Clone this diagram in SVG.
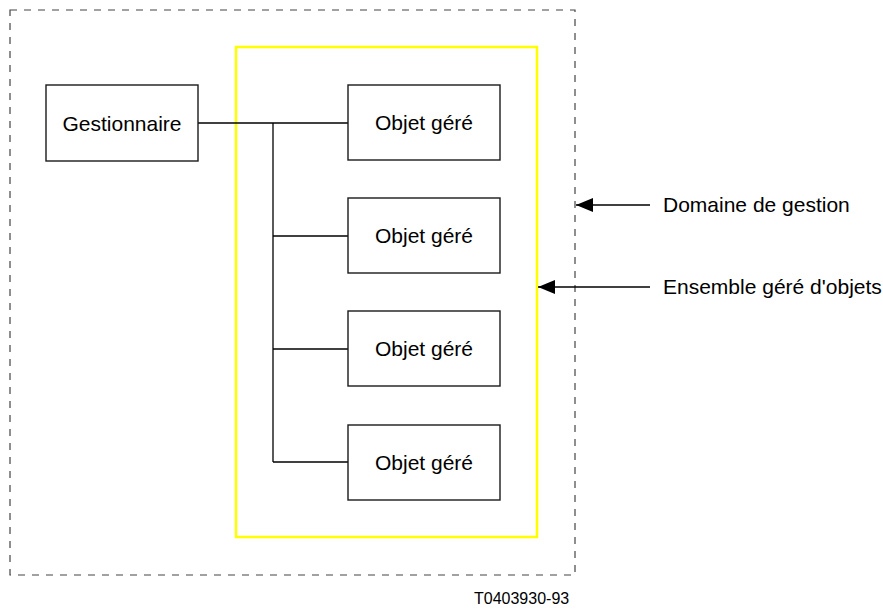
<svg xmlns="http://www.w3.org/2000/svg" width="883" height="609" viewBox="0 0 883 609">
  <style>
    .box { fill: #ffffff; stroke: #1a1a1a; stroke-width: 1.4; }
    .lbl { font-family: "Liberation Sans", Arial, sans-serif; font-size: 21px; fill: #000000; }
    .cap { font-family: "Liberation Sans", Arial, sans-serif; font-size: 16px; fill: #000000; }
    .wire { stroke: #000000; stroke-width: 1.3; fill: none; }
    .dom { fill: none; stroke: #444444; stroke-width: 1.2; stroke-dasharray: 7 7; }
    .set { fill: none; stroke: #ffff00; stroke-width: 2.5; }
  </style>
  <defs>
    <marker id="head" viewBox="0 0 17 14" refX="17" refY="7" markerWidth="17" markerHeight="14" markerUnits="userSpaceOnUse" orient="auto">
      <path d="M0,0 L17,7 L0,14 Z" fill="#000000"/>
    </marker>
  </defs>

  <rect width="883" height="609" fill="#ffffff"/>

  <!-- management domain boundary -->
  <rect id="domaine" class="dom" x="10" y="10" width="565" height="565"/>

  <!-- managed object set -->
  <rect id="ensemble" class="set" x="236" y="47" width="301" height="490"/>

  <g id="connectors">
    <path class="wire" d="M198,123 H348"/>
    <path class="wire" d="M273,123 V462"/>
    <path class="wire" d="M273,236 H348"/>
    <path class="wire" d="M273,349 H348"/>
    <path class="wire" d="M273,462 H348"/>
    <path class="wire" d="M650,205 H576" marker-end="url(#head)"/>
    <path class="wire" d="M650,287 H538" marker-end="url(#head)"/>
  </g>

  <g id="gestionnaire">
    <rect class="box" x="46" y="85" width="152" height="76"/>
    <text class="lbl" x="122" y="130.5" text-anchor="middle">Gestionnaire</text>
  </g>

  <g id="objet1">
    <rect class="box" x="348" y="85" width="152" height="75"/>
    <text class="lbl" x="424" y="130" text-anchor="middle">Objet géré</text>
  </g>
  <g id="objet2">
    <rect class="box" x="348" y="198" width="152" height="75"/>
    <text class="lbl" x="424" y="243" text-anchor="middle">Objet géré</text>
  </g>
  <g id="objet3">
    <rect class="box" x="348" y="311" width="152" height="75"/>
    <text class="lbl" x="424" y="356" text-anchor="middle">Objet géré</text>
  </g>
  <g id="objet4">
    <rect class="box" x="348" y="425" width="152" height="75"/>
    <text class="lbl" x="424" y="470" text-anchor="middle">Objet géré</text>
  </g>

  <g id="legende-domaine">
    <text class="lbl" x="663" y="212">Domaine de gestion</text>
  </g>
  <g id="legende-ensemble">
    <text class="lbl" x="663" y="294">Ensemble géré d'objets</text>
  </g>

  <text class="cap" x="474" y="604">T0403930-93</text>
</svg>
